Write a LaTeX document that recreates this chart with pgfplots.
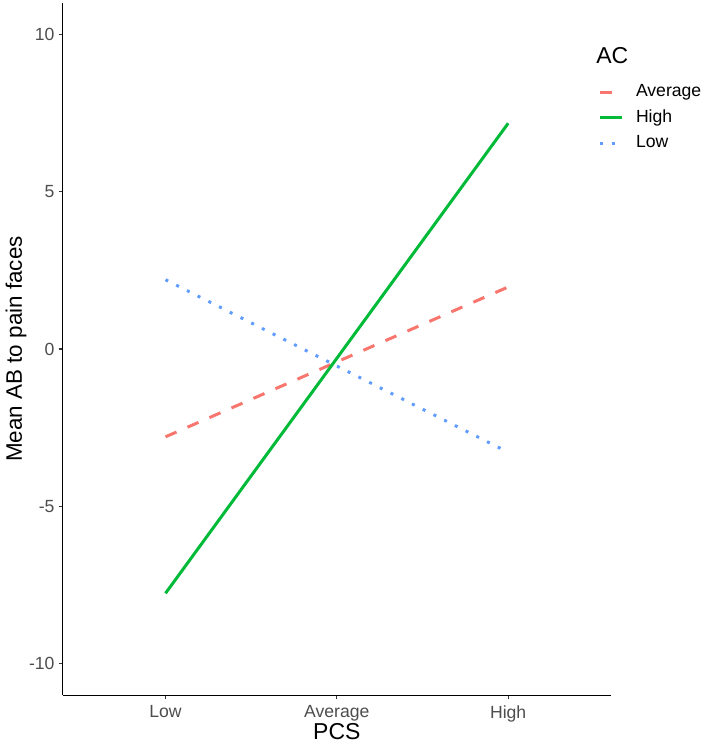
\documentclass[border=0pt]{standalone}
\usepackage{fontspec}
\setmainfont{Liberation Sans}
\usepackage{pgfplots}
\pgfplotsset{compat=1.18}
\definecolor{cAvg}{HTML}{F8766D}
\definecolor{cHigh}{HTML}{00BA38}
\definecolor{cLow}{HTML}{619CFF}
\definecolor{grey30}{HTML}{4D4D4D}
\definecolor{grey20}{HTML}{333333}
\begin{document}
\begin{tikzpicture}
\path[use as bounding box] (-31.35pt,-26.35pt) rectangle (322.65pt,347.65pt);
\begin{axis}[
  at={(0pt,0pt)}, anchor=south west,
  scale only axis,
  clip mode=individual,
  width=274.15pt, height=346.3pt,
  xmin=0.4, xmax=3.6, ymin=-11, ymax=11,
  axis x line*=bottom, axis y line*=left,
  axis line style={-, black, line width=0.7pt},
  tick align=outside,
  major tick length=2pt,
  tick style={grey20, line width=0.6pt},
  xtick={1,2,3}, xticklabels={Low,Average,High},
  ytick={-10,-5,0,5,10}, yticklabels={-10,-5,0,5,10},
  /pgf/number format/assume math mode=true,
  ticklabel style={font=\fontsize{8.8}{10}\selectfont, text=grey30, inner sep=0pt},
  xticklabel style={anchor=north, yshift=-3pt},
  yticklabel style={anchor=east, xshift=-1.9pt},
  xlabel={PCS},
  ylabel={Mean AB to pain faces},
  xlabel style={at={(axis description cs:0.5,-0.052)}, anchor=center, font=\fontsize{11.5}{13}\selectfont, inner sep=0pt},
  ylabel style={at={(axis description cs:-0.0852,0.5)}, anchor=center, font=\fontsize{11.2}{13}\selectfont, inner sep=0pt},
  legend image code/.code={\draw[#1] (0pt,0pt) -- (11pt,0pt);},
  legend style={
    at={(0.9763,0.883)}, anchor=north west,
    draw=none, fill=none, inner sep=0pt, outer sep=0pt,
    column sep=6.5pt, row sep=4.25pt,
    font=\fontsize{8.8}{10}\selectfont,
    nodes={inner sep=0pt, text height=6.5pt, text depth=2pt},
  },
  legend cell align=left,
]
\addplot[cAvg, line width=1.5pt, dash pattern=on 6pt off 6pt] coordinates {(1,-2.79) (2,-0.41) (3,1.97)};
\addlegendentry{Average}
\addplot[cHigh, line width=1.5pt] coordinates {(1,-7.76) (2,-0.295) (3,7.17)};
\addlegendentry{High}
\addplot[cLow, line width=1.5pt, dash pattern=on 1.5pt off 4.5pt] coordinates {(1,2.20) (2,-0.54) (3,-3.28)};
\addlegendentry{Low}
\node[anchor=west, inner sep=0pt, font=\fontsize{11.5}{13}\selectfont] at (axis description cs:0.9726,0.9238) {AC};
\end{axis}
\end{tikzpicture}
\end{document}
